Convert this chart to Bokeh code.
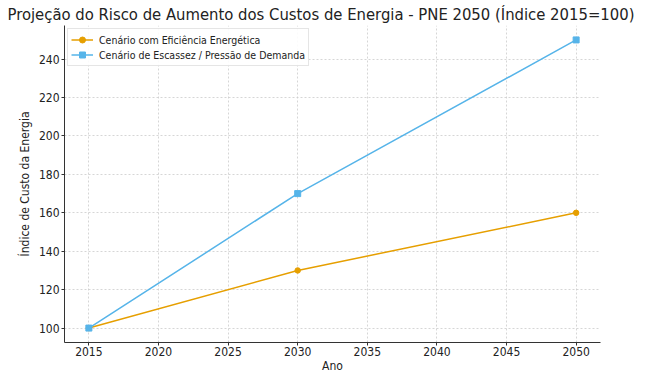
from bokeh.plotting import figure
from bokeh.embed import file_html
from bokeh.resources import INLINE
from bokeh.models import Range1d, FixedTicker, ColumnDataSource

anos = [2015, 2030, 2050]
eficiencia = [100, 130, 160]
escassez = [100, 170, 250]
x_ticks = [2015, 2020, 2025, 2030, 2035, 2040, 2045, 2050]
y_ticks = [100, 120, 140, 160, 180, 200, 220, 240]

ORANGE = "#E69F00"
BLUE = "#56B4E9"
FONT = "DejaVu Sans Condensed"

p = figure(width=647, height=375, output_backend="svg", toolbar_location=None,
           x_range=Range1d(2013.25, 2051.75), y_range=Range1d(92.5, 257.5),
           title="Projeção do Risco de Aumento dos Custos de Energia - PNE 2050 (Índice 2015=100)")
p.min_border_left = 64
p.min_border_right = 47
p.min_border_top = 0
p.min_border_bottom = 0

p.title.text_font = FONT
p.title.text_font_size = "16.5px"
p.title.text_font_style = "normal"
p.title.text_color = "#222222"
p.title.align = "left"
p.title.offset = -57
p.title.standoff = 4

src1 = ColumnDataSource(dict(x=anos, y=eficiencia))
src2 = ColumnDataSource(dict(x=anos, y=escassez))

p.line("x", "y", source=src1, color=ORANGE, line_width=1.5, legend_label="Cenário com Eficiência Energética")
p.scatter("x", "y", source=src1, marker="circle", size=5.5, color=ORANGE, legend_label="Cenário com Eficiência Energética")
p.line("x", "y", source=src2, color=BLUE, line_width=1.5, legend_label="Cenário de Escassez / Pressão de Demanda")
p.scatter("x", "y", source=src2, marker="square", size=6, color=BLUE, legend_label="Cenário de Escassez / Pressão de Demanda")

for ax in (p.xaxis, p.yaxis):
    ax.major_label_text_font = FONT
    ax.major_label_text_font_size = "12px"
    ax.major_label_text_color = "#222222"
    ax.axis_label_text_font = FONT
    ax.axis_label_text_font_size = "12px"
    ax.axis_label_text_font_style = "normal"
    ax.axis_label_text_color = "#222222"
    ax.axis_line_color = "#333333"
    ax.major_tick_line_color = "#333333"
    ax.major_tick_out = 3
    ax.major_tick_in = 0
    ax.minor_tick_line_color = None
    ax.major_label_standoff = 1
    ax.axis_label_standoff = 0

p.yaxis.major_label_standoff = 2
p.yaxis.axis_label_standoff = 4

p.xaxis.axis_label = "Ano"
p.yaxis.axis_label = "Índice de Custo da Energia"
p.xaxis.ticker = FixedTicker(ticks=x_ticks)
p.yaxis.ticker = FixedTicker(ticks=y_ticks)

p.xgrid.ticker = FixedTicker(ticks=x_ticks)
p.ygrid.ticker = FixedTicker(ticks=y_ticks)
for g in (p.xgrid, p.ygrid):
    g.grid_line_color = "#cccccc"
    g.grid_line_dash = "2 2"
    g.grid_line_width = 0.8

p.outline_line_color = None

p.legend.location = "top_left"
p.legend.label_text_font = FONT
p.legend.label_text_font_size = "10.5px"
p.legend.label_text_color = "#222222"
p.legend.border_line_color = "#cccccc"
p.legend.background_fill_alpha = 0.9
p.legend.margin = 3
p.legend.padding = 3
p.legend.spacing = 0
p.legend.glyph_width = 22
p.legend.glyph_height = 15
p.legend.label_height = 15
p.legend.label_standoff = 6

open("out.html", "w").write(file_html(p, INLINE))
